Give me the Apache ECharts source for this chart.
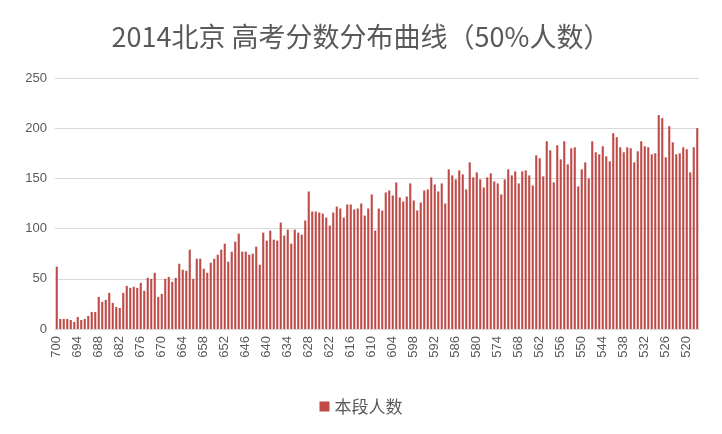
<!DOCTYPE html>
<html>
<head>
<meta charset="utf-8">
<script src="https://cdn.jsdelivr.net/npm/echarts@6/dist/echarts.min.js"></script>
<style>
html,body{margin:0;padding:0;background:#fff;}
#chart{width:722px;height:434px;}
</style>
</head>
<body>
<div id="chart"></div>
<script>
var titleText = '2014北京 高考分数分布曲线（50%人数）';
var seriesName = '本段人数';
var scores = [700,699,698,697,696,695,694,693,692,691,690,689,688,687,686,685,684,683,682,681,680,679,678,677,676,675,674,673,672,671,670,669,668,667,666,665,664,663,662,661,660,659,658,657,656,655,654,653,652,651,650,649,648,647,646,645,644,643,642,641,640,639,638,637,636,635,634,633,632,631,630,629,628,627,626,625,624,623,622,621,620,619,618,617,616,615,614,613,612,611,610,609,608,607,606,605,604,603,602,601,600,599,598,597,596,595,594,593,592,591,590,589,588,587,586,585,584,583,582,581,580,579,578,577,576,575,574,573,572,571,570,569,568,567,566,565,564,563,562,561,560,559,558,557,556,555,554,553,552,551,550,549,548,547,546,545,544,543,542,541,540,539,538,537,536,535,534,533,532,531,530,529,528,527,526,525,524,523,522,521,520,519,518,517];
var counts = [62,10,10,10,9,7,12,9,10,13,17,17,32,27,29,36,26,22,21,36,43,41,42,41,46,38,51,50,56,32,35,50,52,47,51,65,59,58,79,50,70,70,60,56,66,70,74,79,85,67,77,87,95,77,77,74,75,82,64,96,88,98,89,88,106,93,99,85,99,96,94,108,137,117,117,116,115,111,103,116,122,120,111,124,124,119,120,125,113,120,134,98,120,118,136,138,133,146,131,127,132,145,128,118,126,138,139,151,144,137,145,125,159,153,149,158,154,139,166,151,156,149,141,151,155,147,145,134,149,159,153,157,145,157,158,153,143,173,170,152,187,178,146,183,169,187,164,180,181,142,159,166,150,187,176,174,182,172,167,195,191,181,176,181,180,166,177,187,182,181,174,175,213,210,171,202,186,174,175,181,179,156,181,200];
var yTicks = [0,50,100,150,200,250];

var chart = echarts.init(document.getElementById('chart'));
chart.setOption({
  animation: false,
  backgroundColor: '#ffffff',
  title: {
    text: titleText,
    left: 'center',
    top: 20,
    padding: 0,
    textStyle: {
      fontFamily: '"Noto Sans CJK SC", "Noto Sans", sans-serif',
      fontSize: 27,
      fontWeight: 'normal',
      color: '#595959',
      lineHeight: 34
    }
  },
  legend: {
    data: [seriesName],
    left: 'center',
    top: 393,
    itemWidth: 10,
    itemHeight: 10,
    itemGap: 7,
    icon: 'rect',
    textStyle: {
      fontFamily: '"Noto Sans CJK SC", sans-serif',
      fontSize: 17,
      color: '#595959'
    }
  },
  grid: {
    left: 55,
    right: 23,
    top: 78,
    bottom: 105,
    containLabel: false
  },
  xAxis: {
    type: 'category',
    data: scores,
    axisTick: { show: false },
    axisLine: { show: true, lineStyle: { color: '#D9D9D9', width: 1 } },
    axisLabel: {
      interval: 5,
      rotate: 90,
      margin: 7,
      fontFamily: '"Liberation Sans", sans-serif',
      fontSize: 13,
      color: '#595959'
    }
  },
  yAxis: {
    type: 'value',
    min: yTicks[0],
    max: yTicks[yTicks.length - 1],
    interval: 50,
    axisLine: { show: false },
    axisTick: { show: false },
    splitLine: { lineStyle: { color: '#D9D9D9', width: 1 } },
    axisLabel: {
      margin: 8,
      fontFamily: '"Liberation Sans", sans-serif',
      fontSize: 13,
      color: '#595959'
    }
  },
  series: [{
    name: seriesName,
    type: 'bar',
    data: counts,
    barCategoryGap: '40%',
    itemStyle: { color: '#BE4B48' }
  }]
});
</script>
</body>
</html>
